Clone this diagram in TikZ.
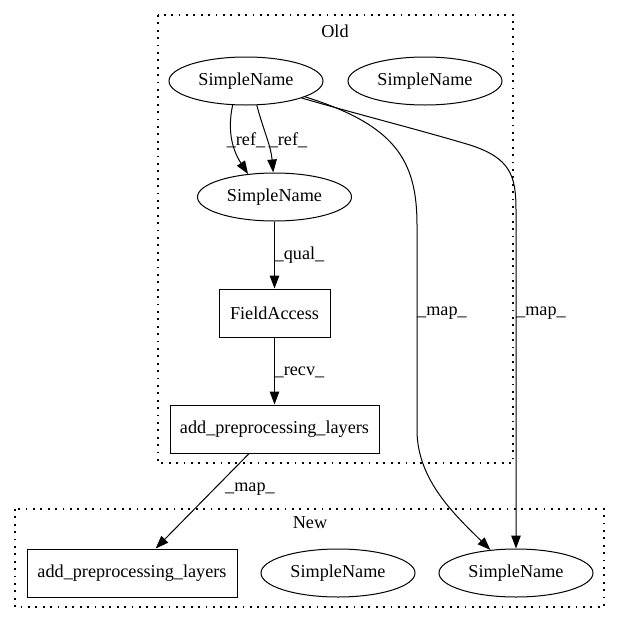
\documentclass[tikz,border=0pt]{standalone}
\usepackage{fontspec}
\setmainfont{Liberation Serif}
\usetikzlibrary{shapes.geometric,arrows.meta}

\begin{document}
\begin{tikzpicture}[x=1pt,y=1pt,>={Triangle[length=13pt,width=9.5pt]},line width=1pt,
		every node/.style={font=\fontsize{18.2}{20}\selectfont,inner sep=0pt},
		sname/.style={shape=ellipse,draw,minimum width=154pt,minimum height=48pt},
		ast/.style={shape=rectangle,draw,minimum height=48pt},
		lbl/.style={draw=none},
		cluster/.style={draw,line width=1.1pt,dash pattern=on 1.8pt off 5.6pt}]
		\useasboundingbox (0,0) rectangle (620,-624);
		% the two clusters
		\draw[cluster] (158,-15) rectangle (513,-463);
		\node (old) [lbl] at (335,-31) {Old};
		\draw[cluster] (15,-509) rectangle (604,-607);
		\node (new) [lbl] at (310,-523) {New};
		
		% create the nodes
		\node (sn1) [sname] at (246,-81) {SimpleName};
		\node (sn2) [sname] at (425,-81) {SimpleName};
		\node (sn3) [sname] at (274.5,-197) {SimpleName};
		\node (fa) [ast, minimum width=111pt] at (274.5,-313) {FieldAccess};
		\node (apl) [ast, minimum width=209pt] at (274.5,-429) {add\_preprocessing\_layers};
		
		\node (newapl) [ast, minimum width=210pt] at (132,-573) {add\_preprocessing\_layers};
		\node (newsn1) [sname] at (338,-573) {SimpleName};
		\node (newsn2) [sname] at (516,-573) {SimpleName};
		
		% edge labels
		\node (lref1) [lbl] at (246,-140) {\_ref\_};
		\node (lref2) [lbl] at (288,-140) {\_ref\_};
		\node (lqual) [lbl] at (299.5,-255) {\_qual\_};
		\node (lrecv) [lbl] at (299.5,-372) {\_recv\_};
		\node (lmap1) [lbl] at (250,-489) {\_map\_};
		\node (lmap2) [lbl] at (442,-313) {\_map\_};
		\node (lmap3) [lbl] at (541,-313) {\_map\_};
		
		% connect the nodes
		\draw[->] (sn1.241) to[out=258,in=123] (sn3.139);
		\draw[->] (sn1.294) to[out=285,in=95] (sn3.93);
		\draw[->] (sn3) -- (fa);
		\draw[->] (fa) -- (apl);
		\draw[->] (apl.224) -- (newapl.46);
		\draw[->] (sn1.345) .. controls (395,-125) and (417,-160) .. (417,-225) -- (417,-430) .. controls (417,-480) and (455,-515) .. (newsn2.138);
		\draw[->] (sn1.343) .. controls (360,-115) and (420,-130) .. (470,-145) .. controls (510,-158) and (516,-175) .. (516,-210) -- (newsn2.north);
		
\end{tikzpicture}
\end{document}
